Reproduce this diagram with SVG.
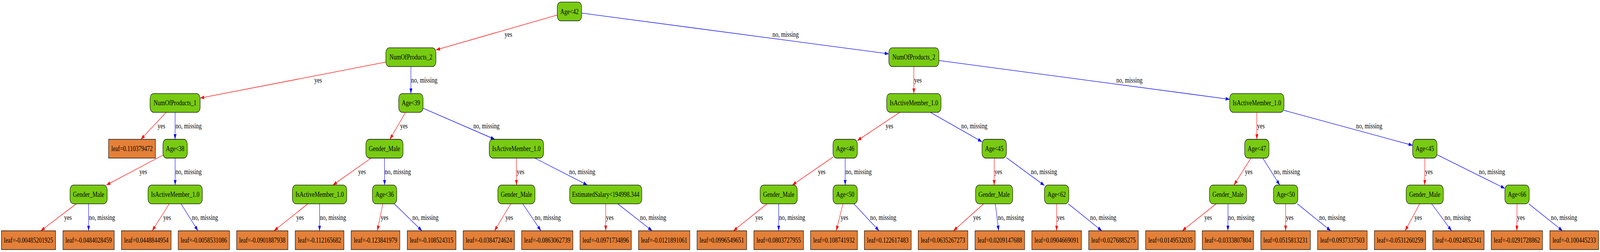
<svg xmlns="http://www.w3.org/2000/svg" width="5256" height="644" viewBox="0 0 5256 644" preserveAspectRatio="none">
<style>
svg{width:100vw;max-width:5256px}
.c{fill:#78cb12;stroke:#000;stroke-width:1.33}
.l{fill:#e48038;stroke:#000;stroke-width:1.33}
text{font-family:"Liberation Serif","Times New Roman",serif;font-size:18.67px;fill:#000}
.nt{text-anchor:middle}
.y{stroke:#ff0000;stroke-width:1.33;fill:none;marker-end:url(#ar)}
.n{stroke:#0000ff;stroke-width:1.33;fill:none;marker-end:url(#ab)}
</style>
<defs>
<marker id="ar" markerUnits="userSpaceOnUse" markerWidth="14" markerHeight="10" refX="13.3" refY="4.67" orient="auto"><path d="M0,0 L13.3,4.67 L0,9.33 z" fill="#ff0000"/></marker>
<marker id="ab" markerUnits="userSpaceOnUse" markerWidth="14" markerHeight="10" refX="13.3" refY="4.67" orient="auto"><path d="M0,0 L13.3,4.67 L0,9.33 z" fill="#0000ff"/></marker>
</defs>
<rect width="5256" height="644" fill="#fff"/>
<g id="edges">
<line class="y" x1="1830.6" y1="38.3" x2="1432.05" y2="127.7"/>
<line class="n" x1="1910.6" y1="33.4" x2="2919.75" y2="137.7"/>
<line class="y" x1="1267.55" y1="158.6" x2="657.45" y2="250.7"/>
<line class="n" x1="1349.8" y1="170.2" x2="1349.8" y2="239.1"/>
<line class="y" x1="3002" y1="170.2" x2="3002" y2="239.1"/>
<line class="n" x1="3084.25" y1="154.7" x2="4039.45" y2="253.8"/>
<line class="y" x1="546.15" y1="287.1" x2="462.75" y2="356"/>
<line class="n" x1="575.2" y1="287.1" x2="575.2" y2="356"/>
<line class="y" x1="1331.98" y1="287.1" x2="1280.82" y2="356"/>
<line class="n" x1="1389.8" y1="276.6" x2="1625.24" y2="356"/>
<line class="y" x1="2955.68" y1="287.1" x2="2816.4" y2="359.3"/>
<line class="n" x1="3056.2" y1="287.1" x2="3226" y2="362.3"/>
<line class="y" x1="4128.7" y1="287.1" x2="4128.7" y2="356"/>
<line class="n" x1="4217.95" y1="282" x2="4640.6" y2="371.5"/>
<line class="y" x1="535.2" y1="396.5" x2="349.35" y2="472.9"/>
<line class="n" x1="575.2" y1="404" x2="575.5" y2="472.9"/>
<line class="y" x1="1219.23" y1="404" x2="1093.57" y2="472.9"/>
<line class="n" x1="1263" y1="404" x2="1263.4" y2="472.9"/>
<line class="y" x1="1696.4" y1="404" x2="1696.5" y2="472.9"/>
<line class="n" x1="1756.64" y1="404" x2="1929.56" y2="472.9"/>
<line class="y" x1="2736.4" y1="401.4" x2="2602.84" y2="472.9"/>
<line class="n" x1="2776.4" y1="404" x2="2776.4" y2="472.9"/>
<line class="y" x1="3266" y1="404" x2="3265.8" y2="472.9"/>
<line class="n" x1="3306" y1="402.8" x2="3431" y2="474.1"/>
<line class="y" x1="4109.26" y1="404" x2="4053.44" y2="472.9"/>
<line class="n" x1="4148.14" y1="404" x2="4203.96" y2="472.9"/>
<line class="y" x1="4680.6" y1="404" x2="4680.3" y2="472.9"/>
<line class="n" x1="4720.6" y1="395.4" x2="4943.5" y2="481.5"/>
<line class="y" x1="250.47" y1="520.9" x2="134.13" y2="589.8"/>
<line class="n" x1="291" y1="520.9" x2="291" y2="589.8"/>
<line class="y" x1="556" y1="520.9" x2="500" y2="589.8"/>
<line class="n" x1="594.82" y1="520.9" x2="650.28" y2="589.8"/>
<line class="y" x1="1011.16" y1="520.9" x2="900.24" y2="589.8"/>
<line class="n" x1="1049.8" y1="520.9" x2="1049.8" y2="589.8"/>
<line class="y" x1="1257.26" y1="520.9" x2="1239.64" y2="589.8"/>
<line class="n" x1="1295.1" y1="520.9" x2="1386.1" y2="589.8"/>
<line class="y" x1="1677.88" y1="520.9" x2="1624.42" y2="589.8"/>
<line class="n" x1="1717.28" y1="520.9" x2="1776.92" y2="589.8"/>
<line class="y" x1="1989.8" y1="520.9" x2="1989.7" y2="589.8"/>
<line class="n" x1="2029.22" y1="520.9" x2="2142.38" y2="589.8"/>
<line class="y" x1="2519.65" y1="520.9" x2="2409.55" y2="589.8"/>
<line class="n" x1="2558" y1="520.9" x2="2558" y2="589.8"/>
<line class="y" x1="2768.85" y1="520.9" x2="2747.15" y2="589.8"/>
<line class="n" x1="2805.14" y1="520.9" x2="2887.66" y2="589.8"/>
<line class="y" x1="3231.31" y1="520.9" x2="3132.29" y2="589.8"/>
<line class="n" x1="3269.62" y1="520.9" x2="3280.58" y2="589.8"/>
<line class="y" x1="3471" y1="520.9" x2="3471" y2="589.8"/>
<line class="n" x1="3509.35" y1="520.9" x2="3619.45" y2="589.8"/>
<line class="y" x1="3995.16" y1="520.9" x2="3883.64" y2="589.8"/>
<line class="n" x1="4034" y1="520.9" x2="4033.7" y2="589.8"/>
<line class="y" x1="4223.4" y1="520.9" x2="4223.2" y2="589.8"/>
<line class="n" x1="4261.65" y1="520.9" x2="4371.45" y2="589.8"/>
<line class="y" x1="4663.61" y1="520.9" x2="4615.69" y2="589.8"/>
<line class="n" x1="4703.03" y1="520.9" x2="4768.27" y2="589.8"/>
<line class="y" x1="4983.5" y1="520.9" x2="4983" y2="589.8"/>
<line class="n" x1="5022.08" y1="520.9" x2="5132.82" y2="589.8"/>
</g>
<g id="edge-labels">
<text x="1657.7" y="94.3">yes</text>
<text x="2537.7" y="94.3">no, missing</text>
<text x="1032.6" y="211.2">yes</text>
<text x="1351" y="211.2">no, missing</text>
<text x="3003" y="211.2">yes</text>
<text x="3667.2" y="211.2">no, missing</text>
<text x="517.8" y="328.1">yes</text>
<text x="576.5" y="328.1">no, missing</text>
<text x="1314.5" y="328.1">yes</text>
<text x="1555" y="328.1">no, missing</text>
<text x="2909.5" y="328.1">yes</text>
<text x="3157.5" y="328.1">no, missing</text>
<text x="4129.7" y="328.1">yes</text>
<text x="4454.8" y="328.1">no, missing</text>
<text x="458.1" y="445">yes</text>
<text x="576.5" y="445">no, missing</text>
<text x="1176.7" y="445">yes</text>
<text x="1264" y="445">no, missing</text>
<text x="1697.5" y="445">yes</text>
<text x="1869.5" y="445">no, missing</text>
<text x="2686.9" y="445">yes</text>
<text x="2777.4" y="445">no, missing</text>
<text x="3267" y="445">yes</text>
<text x="3386.6" y="445">no, missing</text>
<text x="4089.7" y="445">yes</text>
<text x="4184.4" y="445">no, missing</text>
<text x="4681.5" y="445">yes</text>
<text x="4858.3" y="445">no, missing</text>
<text x="210.7" y="561.9">yes</text>
<text x="292" y="561.9">no, missing</text>
<text x="536.7" y="561.9">yes</text>
<text x="630.3" y="561.9">no, missing</text>
<text x="973.5" y="561.9">yes</text>
<text x="1050.8" y="561.9">no, missing</text>
<text x="1250.7" y="561.9">yes</text>
<text x="1354.6" y="561.9">no, missing</text>
<text x="1660.6" y="561.9">yes</text>
<text x="1756.5" y="561.9">no, missing</text>
<text x="1990.8" y="561.9">yes</text>
<text x="2102.5" y="561.9">no, missing</text>
<text x="2481.4" y="561.9">yes</text>
<text x="2559" y="561.9">no, missing</text>
<text x="2761.4" y="561.9">yes</text>
<text x="2858.4" y="561.9">no, missing</text>
<text x="3197.1" y="561.9">yes</text>
<text x="3277.5" y="561.9">no, missing</text>
<text x="3472" y="561.9">yes</text>
<text x="3581.2" y="561.9">no, missing</text>
<text x="3956.5" y="561.9">yes</text>
<text x="4034.7" y="561.9">no, missing</text>
<text x="4224.3" y="561.9">yes</text>
<text x="4333.6" y="561.9">no, missing</text>
<text x="4646.5" y="561.9">yes</text>
<text x="4745.2" y="561.9">no, missing</text>
<text x="4984" y="561.9">yes</text>
<text x="5094.8" y="561.9">no, missing</text>
</g>
<g id="n0"><rect class="c" x="1830.6" y="5.3" width="80" height="48" rx="12"/><text class="nt" x="1870.6" y="35.6">Age&lt;42</text></g>
<g id="n1"><rect class="c" x="1267.55" y="122.2" width="164.5" height="48" rx="12"/><text class="nt" x="1349.8" y="152.5">NumOfProducts_2</text></g>
<g id="n2"><rect class="c" x="2919.75" y="122.2" width="164.5" height="48" rx="12"/><text class="nt" x="3002" y="152.5">NumOfProducts_2</text></g>
<g id="n3"><rect class="c" x="492.95" y="239.1" width="164.5" height="48" rx="12"/><text class="nt" x="575.2" y="269.4">NumOfProducts_1</text></g>
<g id="n4"><rect class="c" x="1309.8" y="239.1" width="80" height="48" rx="12"/><text class="nt" x="1349.8" y="269.4">Age&lt;39</text></g>
<g id="n5"><rect class="c" x="2912.75" y="239.1" width="178.5" height="48" rx="12"/><text class="nt" x="3002" y="269.4">IsActiveMember_1.0</text></g>
<g id="n6"><rect class="c" x="4039.45" y="239.1" width="178.5" height="48" rx="12"/><text class="nt" x="4128.7" y="269.4">IsActiveMember_1.0</text></g>
<g id="n7"><rect class="l" x="356.7" y="356" width="154" height="48"/><text class="nt" x="433.7" y="386.3">leaf=0.110379472</text></g>
<g id="n8"><rect class="c" x="535.2" y="356" width="80" height="48" rx="12"/><text class="nt" x="575.2" y="386.3">Age&lt;38</text></g>
<g id="n9"><rect class="c" x="1202" y="356" width="122" height="48" rx="12"/><text class="nt" x="1263" y="386.3">Gender_Male</text></g>
<g id="n10"><rect class="c" x="1607.15" y="356" width="178.5" height="48" rx="12"/><text class="nt" x="1696.4" y="386.3">IsActiveMember_1.0</text></g>
<g id="n11"><rect class="c" x="2736.4" y="356" width="80" height="48" rx="12"/><text class="nt" x="2776.4" y="386.3">Age&lt;46</text></g>
<g id="n12"><rect class="c" x="3226" y="356" width="80" height="48" rx="12"/><text class="nt" x="3266" y="386.3">Age&lt;45</text></g>
<g id="n13"><rect class="c" x="4088.7" y="356" width="80" height="48" rx="12"/><text class="nt" x="4128.7" y="386.3">Age&lt;47</text></g>
<g id="n14"><rect class="c" x="4640.6" y="356" width="80" height="48" rx="12"/><text class="nt" x="4680.6" y="386.3">Age&lt;45</text></g>
<g id="n15"><rect class="c" x="230" y="472.9" width="122" height="48" rx="12"/><text class="nt" x="291" y="503.2">Gender_Male</text></g>
<g id="n16"><rect class="c" x="486.25" y="472.9" width="178.5" height="48" rx="12"/><text class="nt" x="575.5" y="503.2">IsActiveMember_1.0</text></g>
<g id="n17"><rect class="c" x="960.55" y="472.9" width="178.5" height="48" rx="12"/><text class="nt" x="1049.8" y="503.2">IsActiveMember_1.0</text></g>
<g id="n18"><rect class="c" x="1223.4" y="472.9" width="80" height="48" rx="12"/><text class="nt" x="1263.4" y="503.2">Age&lt;36</text></g>
<g id="n19"><rect class="c" x="1635.5" y="472.9" width="122" height="48" rx="12"/><text class="nt" x="1696.5" y="503.2">Gender_Male</text></g>
<g id="n20"><rect class="c" x="1871.3" y="472.9" width="237" height="48" rx="12"/><text class="nt" x="1989.8" y="503.2">EstimatedSalary&lt;194998.344</text></g>
<g id="n21"><rect class="c" x="2497" y="472.9" width="122" height="48" rx="12"/><text class="nt" x="2558" y="503.2">Gender_Male</text></g>
<g id="n22"><rect class="c" x="2736.4" y="472.9" width="80" height="48" rx="12"/><text class="nt" x="2776.4" y="503.2">Age&lt;50</text></g>
<g id="n23"><rect class="c" x="3204.8" y="472.9" width="122" height="48" rx="12"/><text class="nt" x="3265.8" y="503.2">Gender_Male</text></g>
<g id="n24"><rect class="c" x="3431" y="472.9" width="80" height="48" rx="12"/><text class="nt" x="3471" y="503.2">Age&lt;62</text></g>
<g id="n25"><rect class="c" x="3973" y="472.9" width="122" height="48" rx="12"/><text class="nt" x="4034" y="503.2">Gender_Male</text></g>
<g id="n26"><rect class="c" x="4183.4" y="472.9" width="80" height="48" rx="12"/><text class="nt" x="4223.4" y="503.2">Age&lt;50</text></g>
<g id="n27"><rect class="c" x="4619.3" y="472.9" width="122" height="48" rx="12"/><text class="nt" x="4680.3" y="503.2">Gender_Male</text></g>
<g id="n28"><rect class="c" x="4943.5" y="472.9" width="80" height="48" rx="12"/><text class="nt" x="4983.5" y="503.2">Age&lt;66</text></g>
<g id="l1"><rect class="l" x="4.6" y="589.8" width="178" height="48"/><text class="nt" x="93.6" y="620.1">leaf=-0.00485201925</text></g>
<g id="l2"><rect class="l" x="206.75" y="589.8" width="168.5" height="48"/><text class="nt" x="291" y="620.1">leaf=-0.0484028459</text></g>
<g id="l3"><rect class="l" x="399" y="589.8" width="163" height="48"/><text class="nt" x="480.5" y="620.1">leaf=0.0448844954</text></g>
<g id="l4"><rect class="l" x="585.35" y="589.8" width="168.5" height="48"/><text class="nt" x="669.6" y="620.1">leaf=-0.0058531086</text></g>
<g id="l5"><rect class="l" x="777.35" y="589.8" width="168.5" height="48"/><text class="nt" x="861.6" y="620.1">leaf=-0.0901887938</text></g>
<g id="l6"><rect class="l" x="969.8" y="589.8" width="160" height="48"/><text class="nt" x="1049.8" y="620.1">leaf=-0.112165682</text></g>
<g id="l7"><rect class="l" x="1153.5" y="589.8" width="160" height="48"/><text class="nt" x="1233.5" y="620.1">leaf=-0.123841979</text></g>
<g id="l8"><rect class="l" x="1337.8" y="589.8" width="160" height="48"/><text class="nt" x="1417.8" y="620.1">leaf=-0.108524315</text></g>
<g id="l9"><rect class="l" x="1521.55" y="589.8" width="168.5" height="48"/><text class="nt" x="1605.8" y="620.1">leaf=-0.0384724624</text></g>
<g id="l10"><rect class="l" x="1713.45" y="589.8" width="168.5" height="48"/><text class="nt" x="1797.7" y="620.1">leaf=-0.0863062739</text></g>
<g id="l11"><rect class="l" x="1905.45" y="589.8" width="168.5" height="48"/><text class="nt" x="1989.7" y="620.1">leaf=-0.0971734896</text></g>
<g id="l12"><rect class="l" x="2097.55" y="589.8" width="168.5" height="48"/><text class="nt" x="2181.8" y="620.1">leaf=-0.0121891061</text></g>
<g id="l13"><rect class="l" x="2289.7" y="589.8" width="163" height="48"/><text class="nt" x="2371.2" y="620.1">leaf=0.0996549651</text></g>
<g id="l14"><rect class="l" x="2476.5" y="589.8" width="163" height="48"/><text class="nt" x="2558" y="620.1">leaf=0.0803727955</text></g>
<g id="l15"><rect class="l" x="2662.6" y="589.8" width="154" height="48"/><text class="nt" x="2739.6" y="620.1">leaf=0.108741932</text></g>
<g id="l16"><rect class="l" x="2839.4" y="589.8" width="154" height="48"/><text class="nt" x="2916.4" y="620.1">leaf=0.122617483</text></g>
<g id="l17"><rect class="l" x="3016.3" y="589.8" width="163" height="48"/><text class="nt" x="3097.8" y="620.1">leaf=0.0635267273</text></g>
<g id="l18"><rect class="l" x="3202.9" y="589.8" width="163" height="48"/><text class="nt" x="3284.4" y="620.1">leaf=0.0209147688</text></g>
<g id="l19"><rect class="l" x="3389.5" y="589.8" width="163" height="48"/><text class="nt" x="3471" y="620.1">leaf=0.0904669091</text></g>
<g id="l20"><rect class="l" x="3576.3" y="589.8" width="163" height="48"/><text class="nt" x="3657.8" y="620.1">leaf=0.0276885275</text></g>
<g id="l21"><rect class="l" x="3763.3" y="589.8" width="163" height="48"/><text class="nt" x="3844.8" y="620.1">leaf=0.0149532035</text></g>
<g id="l22"><rect class="l" x="3949.45" y="589.8" width="168.5" height="48"/><text class="nt" x="4033.7" y="620.1">leaf=-0.0333807804</text></g>
<g id="l23"><rect class="l" x="4141.7" y="589.8" width="163" height="48"/><text class="nt" x="4223.2" y="620.1">leaf=0.0515813231</text></g>
<g id="l24"><rect class="l" x="4328.2" y="589.8" width="163" height="48"/><text class="nt" x="4409.7" y="620.1">leaf=0.0937337503</text></g>
<g id="l25"><rect class="l" x="4514.75" y="589.8" width="168.5" height="48"/><text class="nt" x="4599" y="620.1">leaf=-0.0531260259</text></g>
<g id="l26"><rect class="l" x="4706.75" y="589.8" width="168.5" height="48"/><text class="nt" x="4791" y="620.1">leaf=-0.0924852341</text></g>
<g id="l27"><rect class="l" x="4898.75" y="589.8" width="168.5" height="48"/><text class="nt" x="4983" y="620.1">leaf=-0.0291728862</text></g>
<g id="l28"><rect class="l" x="5091.4" y="589.8" width="160" height="48"/><text class="nt" x="5171.4" y="620.1">leaf=-0.100445233</text></g>
</svg>
